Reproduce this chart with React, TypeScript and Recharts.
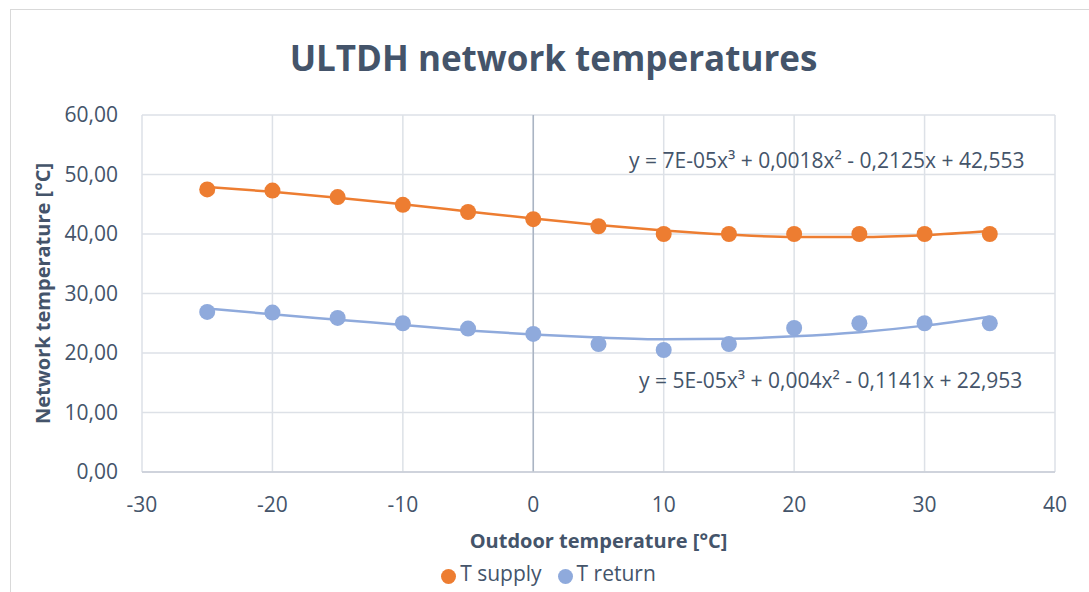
import React from 'react'
import {
  ComposedChart, Line, Scatter, ReferenceLine, ReferenceDot,
  XAxis, YAxis, CartesianGrid, Legend,
} from 'recharts'

const FONT = '"Open Sans", "Noto Sans", sans-serif'
const TEXT = '#44546A'
const GRID = '#dde1e7'
const SUPPLY_COLOR = '#ED7D31'
const RETURN_COLOR = '#8FAADC'

// outdoor temperature [°C]
const OUTDOOR = [-25, -20, -15, -10, -5, 0, 5, 10, 15, 20, 25, 30, 35]
// measured network temperatures [°C]
const T_SUPPLY = [47.5, 47.3, 46.2, 44.9, 43.7, 42.5, 41.3, 40, 40, 40, 40, 40, 40]
const T_RETURN = [26.9, 26.8, 25.9, 25.0, 24.1, 23.2, 21.5, 20.5, 21.5, 24.2, 25, 25, 25]
// polynomial trendlines
const SUPPLY_TREND = [47.9, 47.1, 46.1, 45.0, 43.8, 42.6, 41.5, 40.6, 39.9, 39.5, 39.5, 39.8, 40.5]
const RETURN_TREND = [27.5, 26.5, 25.6, 24.7, 23.8, 23.1, 22.6, 22.3, 22.4, 22.8, 23.5, 24.6, 26.1]

const X_TICKS = [-30, -20, -10, 0, 10, 20, 30, 40]
const Y_TICKS = [0, 10, 20, 30, 40, 50, 60]

const SUPPLY_EQ = 'y = 7E-05x³ + 0,0018x² - 0,2125x + 42,553'
const RETURN_EQ = 'y = 5E-05x³ + 0,004x² - 0,1141x + 22,953'

const LEGEND_ORDER = ['T supply', 'T return']

const data = OUTDOOR.map((x, i) => ({
  x,
  supply: T_SUPPLY[i],
  ret: T_RETURN[i],
  supplyTrend: SUPPLY_TREND[i],
  retTrend: RETURN_TREND[i],
}))

const fmtY = (v: number) => v.toFixed(2).replace('.', ',')

const eqLabel = (text: string) => (props: any) => {
  const { viewBox } = props
  return (
    <text
      x={viewBox.x}
      y={viewBox.y}
      textAnchor="middle"
      dominantBaseline="central"
      fontFamily={FONT}
      fontSize={21}
      fill={TEXT}
    >
      {text}
    </text>
  )
}

const dot = (color: string) => (p: any) => (
  <circle cx={p.cx} cy={p.cy} r={8} fill={color} />
)

export default function App() {
  return (
    <div style={{ position: 'absolute', left: 0, top: 0, width: 1089, height: 592, background: '#fff', overflow: 'hidden', fontFamily: FONT }}>
      <div style={{ position: 'absolute', left: 10, top: 9, width: 1200, height: 700, border: '1px solid #d9d9d9' }} />
      <div style={{ position: 'absolute', left: 0, top: 34, width: 1107, textAlign: 'center', fontSize: 35, fontWeight: 700, color: TEXT, lineHeight: '48px' }}>
        ULTDH network temperatures
      </div>
      <div style={{ position: 'absolute', left: 0, top: 0 }}>
        <ComposedChart width={1089} height={592} data={data} margin={{ top: 115, right: 34, left: 10, bottom: 0 }}>
          <CartesianGrid stroke={GRID} strokeWidth={1.5} horizontalValues={Y_TICKS} verticalValues={X_TICKS} />
          <XAxis
            dataKey="x"
            type="number"
            domain={[-30, 40]}
            ticks={X_TICKS}
            height={90}
            axisLine={{ stroke: '#c7cdd6', strokeWidth: 1.5 }}
            tickLine={false}
            tickSize={0}
            tickMargin={25}
            tick={{ fontSize: 21, fill: TEXT, fontFamily: FONT }}
            label={{ value: 'Outdoor temperature [°C]', position: 'insideBottom', offset: 14, style: { fontSize: 20, fontWeight: 700, fill: TEXT, fontFamily: FONT } }}
          />
          <YAxis
            type="number"
            domain={[0, 60]}
            ticks={Y_TICKS}
            width={132}
            axisLine={false}
            tickLine={false}
            tickSize={0}
            tickMargin={24}
            tickFormatter={fmtY}
            tick={{ fontSize: 21, fill: TEXT, fontFamily: FONT }}
            label={{ value: 'Network temperature [°C]', angle: -90, position: 'insideLeft', offset: 33, style: { textAnchor: 'middle', fontSize: 20, fontWeight: 700, fill: TEXT, fontFamily: FONT } }}
          />
          <ReferenceLine x={0} stroke="#aab4c3" strokeWidth={1.5} />
          <Legend
            verticalAlign="bottom"
            height={30}
            iconType="circle"
            iconSize={15}
            wrapperStyle={{ bottom: 3, left: 34 }}
            itemSorter={(item: any) => LEGEND_ORDER.indexOf(item.value)}
            formatter={(value: string) => <span style={{ color: TEXT, fontSize: 21, fontFamily: FONT, marginRight: 6 }}>{value}</span>}
          />
          <Line dataKey="supplyTrend" type="monotone" stroke={SUPPLY_COLOR} strokeWidth={2.5} dot={false} legendType="none" isAnimationActive={false} />
          <Line dataKey="retTrend" type="monotone" stroke={RETURN_COLOR} strokeWidth={2.5} dot={false} legendType="none" isAnimationActive={false} />
          <Scatter name="T supply" dataKey="supply" fill={SUPPLY_COLOR} shape={dot(SUPPLY_COLOR)} legendType="circle" isAnimationActive={false} />
          <Scatter name="T return" dataKey="ret" fill={RETURN_COLOR} shape={dot(RETURN_COLOR)} legendType="circle" isAnimationActive={false} />
          <ReferenceDot x={22.5} y={52.4} r={0} label={eqLabel(SUPPLY_EQ)} />
          <ReferenceDot x={22.8} y={15.5} r={0} label={eqLabel(RETURN_EQ)} />
        </ComposedChart>
      </div>
    </div>
  )
}
